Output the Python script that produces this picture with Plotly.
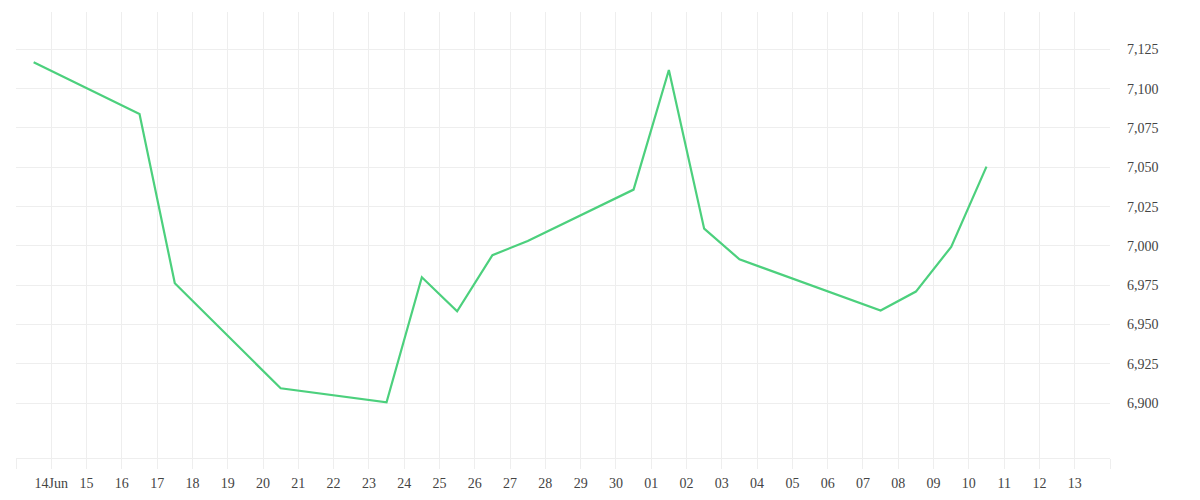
import plotly.graph_objects as go
import pandas as pd

# Data
dates = ["2024-06-13 12:00", "2024-06-16 12:00", "2024-06-17 12:00", "2024-06-20 12:00",
         "2024-06-23 12:00", "2024-06-24 12:00", "2024-06-25 12:00", "2024-06-26 12:00",
         "2024-06-27 12:00", "2024-06-30 12:00", "2024-07-01 12:00", "2024-07-02 12:00",
         "2024-07-03 12:00", "2024-07-07 12:00", "2024-07-08 12:00", "2024-07-09 12:00",
         "2024-07-10 12:00"]
values = [7116.7, 7083.8, 6976.3, 6909.5, 6900.6, 6980.1, 6958.5, 6994.1, 7003.2,
          7035.8, 7111.8, 7011.0, 6991.5, 6958.9, 6971.0, 6999.4, 7050.4]

tick_dates = [d.strftime("%Y-%m-%d") for d in pd.date_range("2024-06-13", "2024-07-14", freq="D")]
tick_labels = ["", "14Jun"] + [d[-2:] for d in tick_dates[2:-1]] + [""]
y_ticks = [6900, 6925, 6950, 6975, 7000, 7025, 7050, 7075, 7100, 7125]

GRID = "#eeeeee"
TEXT = "#444444"
FONT = "Liberation Serif, Times New Roman, serif"

fig = go.Figure()
fig.add_trace(go.Scatter(
    x=dates, y=values, mode="lines",
    line=dict(color="#4cd07d", width=2.2),
    hoverinfo="x+y", showlegend=False,
))

fig.update_layout(
    width=1192, height=492,
    margin=dict(l=8, r=90, t=4, b=42),
    paper_bgcolor="white", plot_bgcolor="white",
    font=dict(family=FONT, size=14, color=TEXT),
    xaxis=dict(
        type="date",
        range=["2024-06-13", "2024-07-14"],
        tickmode="array", tickvals=tick_dates, ticktext=tick_labels,
        showgrid=True, gridcolor=GRID, gridwidth=1,
        ticks="outside", ticklen=10, tickcolor=GRID, tickwidth=1,
        showline=True, linecolor=GRID, linewidth=1,
        zeroline=False, ticklabelstandoff=2,
        tickfont=dict(family=FONT, size=14, color=TEXT),
    ),
    yaxis=dict(
        side="right",
        range=[6865.2, 7148.7],
        tickmode="array", tickvals=y_ticks,
        tickformat=",",
        showgrid=True, gridcolor=GRID, gridwidth=1,
        ticks="", ticklabelstandoff=16,
        showline=False, zeroline=False,
        tickfont=dict(family=FONT, size=14, color=TEXT),
    ),
)

fig.write_html("out.html")
